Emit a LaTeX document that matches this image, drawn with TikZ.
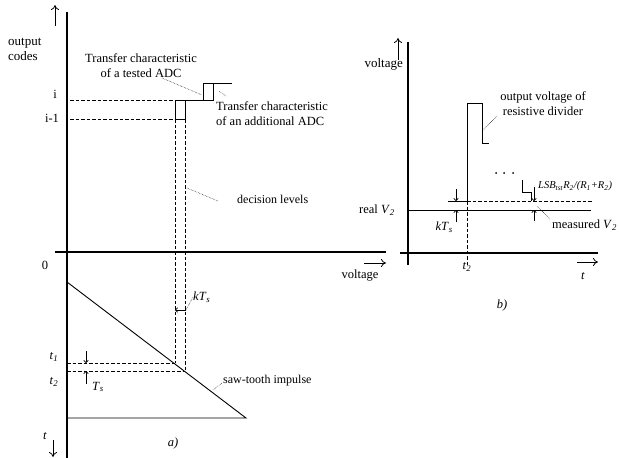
\documentclass[tikz,border=0pt]{standalone}
\usepackage{fontspec}
\setmainfont{Liberation Serif}
\usetikzlibrary{arrows.meta}
\begin{document}
\begin{tikzpicture}[x=1pt,y=-1pt,
  ax/.style={line width=1.1pt},
  ln/.style={line width=0.9pt},
  dsh/.style={line width=0.8pt, dash pattern=on 3.5pt off 2pt},
  lead/.style={line width=0.5pt, densely dotted},
  arr/.style={line width=0.7pt, -{To[length=3pt,width=5pt]}},
  bigarr/.style={line width=0.8pt, -{To[length=5pt,width=8pt]}},
  lbl/.style={inner sep=0pt, font=\fontsize{11.5}{14}\selectfont},
  ann/.style={inner sep=0pt, font=\fontsize{12.5}{15}\selectfont},
  sml/.style={inner sep=0pt, font=\fontsize{10.5}{12}\selectfont},
]
\useasboundingbox (0,0) rectangle (619,458);
% ---------------- panel a ----------------
\coordinate (aT) at (67,12); \coordinate (aB) at (67,458);
\draw[ax] (aT) -- (aB);
\coordinate (aU0) at (55,26); \coordinate (aU1) at (55,5);
\draw[bigarr] (aU0) -- (aU1);
\coordinate (aH0) at (55,252); \coordinate (aH1) at (386,252);
\draw[ax] (aH0) -- (aH1);
\coordinate (aR0) at (364,263); \coordinate (aR1) at (386,263);
\draw[bigarr] (aR0) -- (aR1);
\node[lbl,anchor=west,font=\fontsize{13}{15}\selectfont,align=left] (ocodes) at (8,49) {output\\codes};
\node[lbl,font=\fontsize{12.5}{15}\selectfont] (volta) at (360,276) {voltage};
\node[lbl,font=\fontsize{12.5}{15}\selectfont] (zero) at (45,265) {0};
\node[lbl,font=\fontsize{12.5}{15}\selectfont] (li) at (55,94) {i};
\node[lbl,font=\fontsize{12.5}{15}\selectfont] (li1) at (52,118) {i-1};
% dashed code levels
\coordinate (di0) at (70,100); \coordinate (di1) at (175,100);
\coordinate (dj0) at (70,119); \coordinate (dj1) at (175,119);
\draw[dsh] (di0) -- (di1);
\draw[dsh] (dj0) -- (dj1);
% staircases
\coordinate (s1) at (175,119); \coordinate (s2) at (175,100); \coordinate (s3) at (203,100);
\coordinate (s4) at (203,83); \coordinate (s5) at (232,83);
\draw[ln] (s1) -- (s2) -- (s3) -- (s4) -- (s5);
\coordinate (b1) at (175,119); \coordinate (b2) at (185,119); \coordinate (b3) at (185,100);
\coordinate (b4) at (213,100); \coordinate (b5) at (213,83);
\draw[ln] (b1) -- (b2) -- (b3) -- (b4) -- (b5);
% decision levels
\coordinate (dl1) at (175,363); \coordinate (dl2) at (185,371);
\draw[dsh] (s1) -- (dl1);
\draw[dsh] (b2) -- (dl2);
\coordinate (t1a) at (67,363); \coordinate (t2a) at (67,371);
\draw[dsh] (t1a) -- (dl1);
\draw[dsh] (t2a) -- (dl2);
% saw-tooth
\coordinate (sw0) at (67,282); \coordinate (sw1) at (246,418); \coordinate (sw2) at (67,418);
\draw[ln] (sw0) -- (sw1) -- (sw2);
% T_s marker
\coordinate (ts0) at (86,351); \coordinate (ts1) at (86,363);
\coordinate (ts2) at (86,384); \coordinate (ts3) at (86,371);
\draw[arr] (ts0) -- (ts1);
\draw[arr] (ts2) -- (ts3);
\node[ann] (tslbl) at (98,387) {\textit{T}\textsubscript{\textit{s}}};
\node[ann] (t1l) at (54,357) {\textit{t}\textsubscript{\textit{1}}};
\node[ann] (t2l) at (54,382) {\textit{t}\textsubscript{\textit{2}}};
\node[ann] (tl) at (45,436) {\textit{t}};
\coordinate (aD0) at (53,440); \coordinate (aD1) at (53,457);
\draw[bigarr] (aD0) -- (aD1);
\node[ann] (alab) at (173,443) {\textit{a)}};
% kT_s marker in a
\coordinate (k0) at (186,310); \coordinate (k1) at (175,310); \coordinate (k2) at (193,297);
\draw[arr] (k0) -- (k1);
\draw[lead] (k0) -- (k2);
\node[ann,anchor=west] (kts) at (193,297) {\textit{kT}\textsubscript{\textit{s}}};
% labels and leaders
\node[ann,align=center] (tested) at (141,66) {Transfer characteristic\\of a tested ADC};
\coordinate (le1) at (162,78); \coordinate (le2) at (202,95);
\draw[lead] (le1) -- (le2);
\node[ann,anchor=west,align=left] (addl) at (216,114) {Transfer characteristic\\of an additional ADC};
\coordinate (le3) at (226,96); \coordinate (le4) at (219,91);
\draw[lead] (le3) -- (le4);
\node[lbl,font=\fontsize{12}{14}\selectfont,anchor=west] (dec) at (237,199) {decision levels};
\coordinate (le5) at (187,188); \coordinate (le6) at (218,201);
\draw[lead] (le5) -- (le6);
\node[lbl,font=\fontsize{12}{14}\selectfont,anchor=west] (saw) at (223,381) {saw-tooth impulse};
\coordinate (le7) at (213,390); \coordinate (le8) at (222,383);
\draw[lead] (le7) -- (le8);
% ---------------- panel b ----------------
\coordinate (bT) at (408,42); \coordinate (bB) at (408,265);
\draw[ax] (bT) -- (bB);
\coordinate (bU0) at (398,60); \coordinate (bU1) at (398,38);
\draw[bigarr] (bU0) -- (bU1);
\node[lbl,anchor=east,font=\fontsize{13}{15}\selectfont] (voltb) at (403,64) {voltage};
\coordinate (bH0) at (400,253); \coordinate (bH1) at (598,253);
\draw[ax] (bH0) -- (bH1);
\coordinate (bR0) at (577,262); \coordinate (bR1) at (598,262);
\draw[bigarr] (bR0) -- (bR1);
\node[ann] (tb) at (583,276) {\textit{t}};
\node[ann] (t2b) at (467,267) {\textit{t}\textsubscript{\textit{2}}};
\node[ann] (blab) at (502,305) {\textit{b)}};
% real V2 and measured levels
\coordinate (rv0) at (408,210); \coordinate (rv1) at (591,210);
\draw[ln] (rv0) -- (rv1);
\node[ann,anchor=east] (realv) at (395,210) {real \textit{V}\textsubscript{\textit{2}}};
\coordinate (mv0) at (448,201); \coordinate (mv1) at (467,201); \coordinate (mv2) at (592,201);
\draw[ln] (mv0) -- (mv1);
\draw[dsh] (mv1) -- (mv2);
\coordinate (t2v) at (467,265);
\draw[dsh] (mv1) -- (t2v);
% pulse
\coordinate (p1) at (467,103); \coordinate (p2) at (482,103);
\coordinate (p3) at (482,143); \coordinate (p4) at (489,143);
\draw[ln] (mv1) -- (p1) -- (p2) -- (p3) -- (p4);
\foreach \i/\x in {1/496,2/504,3/513} \fill (\x,173) circle (1pt);
% small step
\coordinate (q1) at (522,180); \coordinate (q2) at (522,192);
\coordinate (q3) at (531,192); \coordinate (q4) at (531,201);
\draw[ln] (q1) -- (q2) -- (q3) -- (q4);
% kTs marker in b
\coordinate (m0) at (456,189); \coordinate (m1) at (456,201);
\coordinate (m2) at (456,222); \coordinate (m3) at (456,210);
\draw[arr] (m0) -- (m1);
\draw[arr] (m2) -- (m3);
\node[ann,anchor=east] (ktsb) at (453,227) {\textit{kT}\textsubscript{\textit{s}}};
% LSB marker
\coordinate (n0) at (534,187); \coordinate (n1) at (534,201);
\coordinate (n2) at (534,221); \coordinate (n3) at (534,210);
\draw[arr] (n0) -- (n1);
\draw[arr] (n2) -- (n3);
\node[sml,anchor=west] (lsb) at (538,186) {\textit{LSB}\textsubscript{\textit{tst}}\textit{R}\textsubscript{\textit{2}}\textit{/(R}\textsubscript{\textit{1}}\textit{+R}\textsubscript{\textit{2}}\textit{)}};
\node[lbl,anchor=west,font=\fontsize{12.5}{14}\selectfont] (meas) at (552,225) {measured \textit{V}\textsubscript{\textit{2}}};
\coordinate (le9) at (537,206); \coordinate (le10) at (550,219);
\draw[lead] (le9) -- (le10);
\node[ann,align=center] (outv) at (543,104) {output voltage of\\resistive divider};
\coordinate (le11) at (497,116); \coordinate (le12) at (483,130);
\draw[lead] (le11) -- (le12);
\end{tikzpicture}
\end{document}
